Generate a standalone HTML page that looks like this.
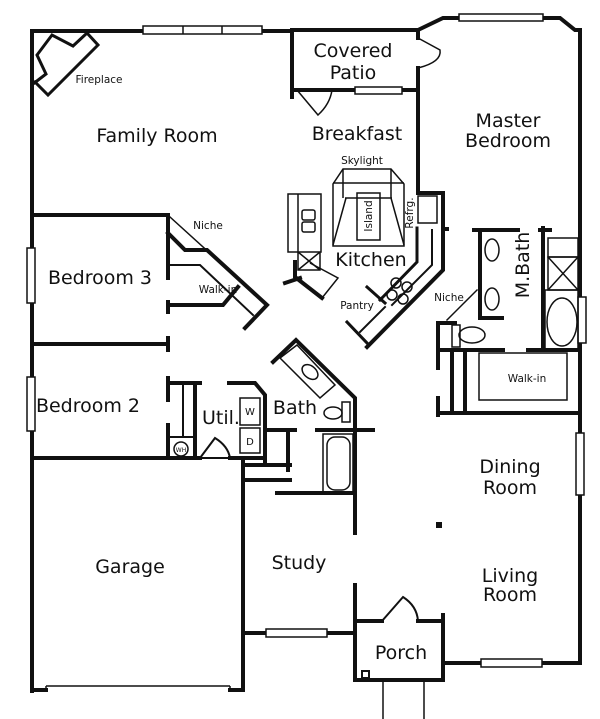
<!DOCTYPE html>
<html><head><meta charset="utf-8"><style>
html,body{margin:0;padding:0;background:#fff;}
svg{display:block;}
text{font-family:"DejaVu Sans","Liberation Sans",sans-serif;fill:#111;}
.b{font-size:19px;}
.s{font-size:10.5px;}
</style></head><body>
<svg width="600" height="719" viewBox="0 0 600 719" xmlns="http://www.w3.org/2000/svg">
<rect width="600" height="719" fill="#fff"/>
<g stroke="#111" stroke-width="4" fill="none" stroke-linecap="square">
<path d="M32,691 V31 H143 M262,31 H292"/>
<path d="M292,30 H418 M292,30 V97 M292,90 H355 M402,90 H418"/>
<path d="M418,30 L443,18 H560 L575,30 H580 V297 M580,343 V433 M580,495 V663 H542 M481,663 H443"/>
<path d="M418,30 V38 M418,68 V193 H443 V270 L367,347"/>
<path d="M33,84 L46,74 L37,55 L52,35 L73,46 L87,33 L98,45 L48,95 L35,82" stroke-width="3"/>
<path d="M32,215 H168 V278 M168,302 V312 M168,344 H32 M168,338 V350"/>
<path d="M168,233 L185,250 H207 L267,305 L245,328 M168,305 H223 L238,287" />
<path d="M168,265 H200 L253,315" stroke-width="2"/>
<path d="M170,217 L267,305" stroke-width="1.5"/>
<path d="M168,378 V400 M168,425 V458 M32,458 H200 M230,458 H265 M170,383 H200 M195,383 V458 M229,383 H255 L265,395 V463"/>
<path d="M183,385 V437 M170,437 H195" stroke-width="2"/>
<path d="M273,362 L296,340 L355,398 V497 M317,430 H373 M267,430 H295 M288,430 V470 M243,462 V633 M243,465 H290 M243,480 H290 M277,493 H353 M355,430 V533 M355,585 V680 H443 V615"/>
<path d="M243,633 H266 M327,633 H355 M355,621 H382 M418,621 H443"/>
<path d="M32,690 H46 M230,690 H243 V458"/>
<path d="M443,229 H447"/>
<path d="M417,228 V262 L380,300 M367,287 L385,303 M347,322 L367,343" stroke-width="3"/>
<path d="M432,230 V265 L392,305" stroke-width="2"/>
<path d="M360,332 L385,307" stroke-width="2"/>
<path d="M295,262 V277 L322,298 M300,278 L285,283"/>
<path d="M474,230 H518 M480,230 V318 H502 M438,323 V368 M438,398 V415 M438,323 H455 M438,350 H503 M528,350 H580 M438,413 H580 M543,228 V350 M540,230 H550 M452,350 V413 M465,350 V413"/>
<path d="M477,290 L447,320" stroke-width="1.5"/>
</g>
<g stroke="#111" stroke-width="1.5" fill="none">
<rect x="143" y="26" width="119" height="8" fill="#fff"/><path d="M183,26 V34 M222,26 V34"/>
<rect x="355" y="87" width="47" height="7" fill="#fff"/>
<rect x="459" y="14" width="84" height="7" fill="#fff"/>
<rect x="27" y="248" width="8" height="55" fill="#fff"/>
<rect x="27" y="377" width="8" height="54" fill="#fff"/>
<rect x="576" y="433" width="8" height="62" fill="#fff"/>
<rect x="578" y="297" width="8" height="46" fill="#fff"/>
<rect x="266" y="629" width="61" height="8" fill="#fff"/>
<rect x="481" y="659" width="61" height="8" fill="#fff"/>
<path d="M418,38 L440,50 Q442,62 418,68"/>
<path d="M297,90 L318,115 Q330,104 332,90"/>
<path d="M200,458 L215,438 Q228,446 230,458 Z" stroke-width="2"/>
<path d="M382,621 L403,597 Q417,606 418,621" stroke-width="2"/>
<path d="M46,686 H230 M46,686 V692 M230,686 V692"/>
<path d="M46,74 L33,84"/>
<path d="M383,680 V719 M424,680 V719"/>
<rect x="362" y="671" width="7" height="7" stroke-width="2"/>
<path d="M343,169 H391 L404,184 V246 H333 V184 Z"/>
<path d="M333,183 H404 M345,198 H392 M343,169 V198 M391,169 V198 M346,198 L333,245 M391,198 L404,245"/>
<rect x="357" y="193" width="23" height="47"/>
<rect x="418" y="196" width="19" height="27"/>
<rect x="288" y="194" width="33" height="58"/>
<path d="M298,194 V270 H320 V252 M298,252 L320,270 M320,252 L298,270"/>
<rect x="302" y="210" width="13" height="10" rx="2"/><rect x="302" y="222" width="13" height="10" rx="2"/>
<path d="M310,263 L338,278 L322,298"/>
<circle cx="396" cy="283" r="5"/><circle cx="407" cy="287" r="5"/><circle cx="392" cy="295" r="5"/><circle cx="403" cy="299" r="5"/>
<rect x="240" y="398" width="20" height="27"/>
<rect x="240" y="428" width="20" height="25"/>
<circle cx="181" cy="449" r="7"/>
<path d="M280,358 L297,345 L335,385 L320,398 Z"/>
<ellipse cx="310" cy="372" rx="9" ry="6" transform="rotate(40 310 372)"/>
<ellipse cx="333" cy="413" rx="9" ry="6"/>
<rect x="342" y="402" width="8" height="20"/>
<rect x="323" y="434" width="30" height="60"/>
<rect x="327" y="437" width="23" height="53" rx="8"/>
<ellipse cx="492" cy="250" rx="7" ry="11"/>
<ellipse cx="492" cy="299" rx="7" ry="11"/>
<rect x="452" y="325" width="8" height="22"/>
<ellipse cx="472" cy="335" rx="13" ry="8"/>
<rect x="548" y="238" width="30" height="19"/>
<rect x="548" y="257" width="30" height="33"/>
<path d="M548,257 L578,290 M578,257 L548,290"/>
<rect x="545" y="290" width="33" height="60"/>
<ellipse cx="562" cy="322" rx="15" ry="24"/>
<rect x="479" y="353" width="88" height="47"/>
</g>
<rect x="436" y="522" width="6" height="6" fill="#111"/>
<text class="b" x="157" y="142" text-anchor="middle">Family Room</text>
<text class="b" x="353" y="57" text-anchor="middle">Covered</text>
<text class="b" x="353" y="79" text-anchor="middle">Patio</text>
<text class="b" x="357" y="140" text-anchor="middle">Breakfast</text>
<text class="b" x="508" y="127" text-anchor="middle">Master</text>
<text class="b" x="508" y="147" text-anchor="middle">Bedroom</text>
<text class="s" x="362" y="164" text-anchor="middle">Skylight</text>
<text class="b" x="371" y="266" text-anchor="middle">Kitchen</text>
<text class="b" x="100" y="284" text-anchor="middle">Bedroom 3</text>
<text class="b" x="88" y="412" text-anchor="middle">Bedroom 2</text>
<text class="b" x="221" y="424" text-anchor="middle">Util.</text>
<text class="b" x="295" y="414" text-anchor="middle">Bath</text>
<text class="b" x="510" y="473" text-anchor="middle">Dining</text>
<text class="b" x="510" y="494" text-anchor="middle">Room</text>
<text class="b" x="130" y="573" text-anchor="middle">Garage</text>
<text class="b" x="299" y="569" text-anchor="middle">Study</text>
<text class="b" x="510" y="582" text-anchor="middle">Living</text>
<text class="b" x="510" y="601" text-anchor="middle">Room</text>
<text class="b" x="401" y="659" text-anchor="middle">Porch</text>
<text class="b" transform="translate(529,265) rotate(-90)" text-anchor="middle">M.Bath</text>
<text class="s" x="99" y="83" text-anchor="middle">Fireplace</text>
<text class="s" x="208" y="229" text-anchor="middle">Niche</text>
<text class="s" x="218" y="293" text-anchor="middle">Walk-in</text>
<text class="s" x="357" y="309" text-anchor="middle">Pantry</text>
<text class="s" x="449" y="301" text-anchor="middle">Niche</text>
<text class="s" x="527" y="382" text-anchor="middle">Walk-in</text>
<text class="s" transform="translate(372,216) rotate(-90)" text-anchor="middle">Island</text>
<text class="s" transform="translate(413,213) rotate(-90)" text-anchor="middle">Refrg.</text>
<text x="250" y="415" font-size="10" text-anchor="middle">W</text>
<text x="250" y="445" font-size="10" text-anchor="middle">D</text>
<text x="181" y="452" font-size="6" text-anchor="middle">WH</text>
</svg>
</body></html>
